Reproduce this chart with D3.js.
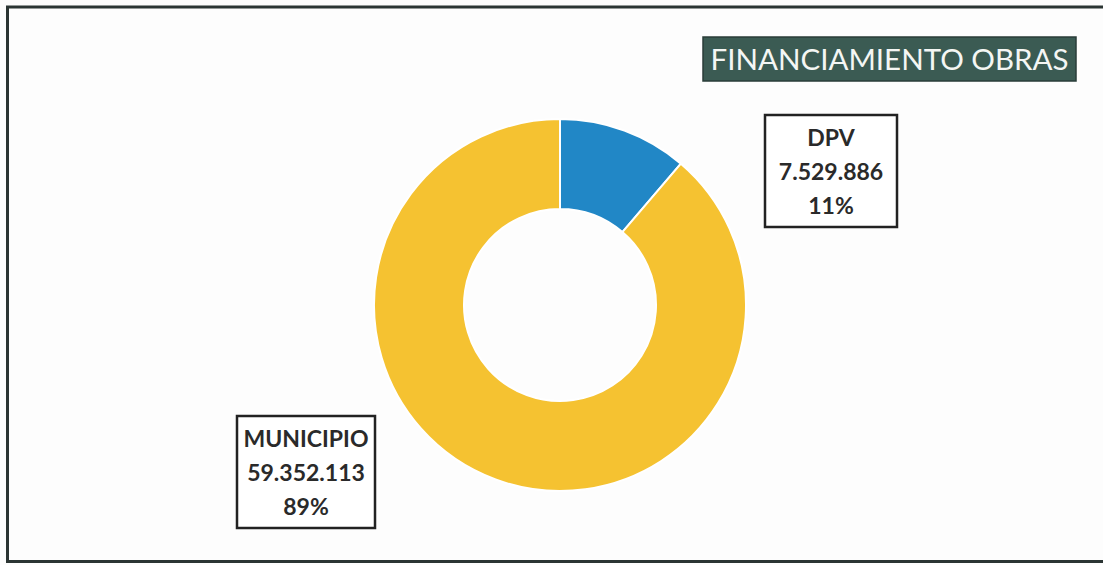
<!DOCTYPE html>
<html>
<head>
<meta charset="utf-8">
<script src="https://cdn.jsdelivr.net/npm/d3@7"></script>
<style>
  html, body { margin: 0; padding: 0; background: #fdfdfd; }
  svg { display: block; }
</style>
</head>
<body>
<div id="chart"></div>
<script>
// data
const categories = ["DPV", "MUNICIPIO"];
const amounts = [7529886, 59352113];
const sliceColors = ["#2187c6", "#f5c231"];
const title = "FINANCIAMIENTO OBRAS";

const width = 1103, height = 565;
const cx = 560, cy = 305;
const outerR = 186, innerR = 96;

const locale = d3.formatLocale({ decimal: ",", thousands: ".", grouping: [3], currency: ["$", ""] });
const fmt = locale.format(",d");
const total = d3.sum(amounts);

const svg = d3.select("#chart").append("svg")
  .attr("width", width)
  .attr("height", height);

// outer frame (right edge is cut off in the scan)
svg.append("path")
  .attr("d", `M${width},7 L7.5,7 L7.5,${height - 3.5} L${width},${height - 3.5}`)
  .attr("fill", "none")
  .attr("stroke", "#2b3533")
  .attr("stroke-width", 3);

// title box
const tg = svg.append("g");
tg.append("rect")
  .attr("x", 703).attr("y", 37)
  .attr("width", 373).attr("height", 44)
  .attr("fill", "#3b5b53")
  .attr("stroke", "#2a3d38")
  .attr("stroke-width", 1.5);
const titleText = tg.append("text")
  .attr("x", 889.5).attr("y", 70)
  .attr("text-anchor", "middle")
  .attr("font-family", "Lato, 'Open Sans', sans-serif")
  .attr("font-size", 32)
  .attr("fill", "#f4f6f4")
  .text(title);
// shrink the font until the title fits inside the box
const natural = titleText.node().getComputedTextLength();
if (natural > 358) titleText.attr("font-size", 32 * 358 / natural);

// donut
const pie = d3.pie().sort(null).value(d => d.value);
const arc = d3.arc().innerRadius(innerR).outerRadius(outerR);
const slices = pie(categories.map((c, i) => ({ name: c, value: amounts[i], color: sliceColors[i] })));

svg.append("g")
  .attr("transform", `translate(${cx},${cy})`)
  .selectAll("path")
  .data(slices)
  .join("path")
  .attr("d", arc)
  .attr("fill", d => d.data.color)
  .attr("stroke", "#ffffff")
  .attr("stroke-width", 2);

// label boxes
const boxes = [
  { x: 765, y: 115, w: 132, h: 112 },
  { x: 237, y: 416, w: 138, h: 112 }
];

slices.forEach((s, i) => {
  const b = boxes[i];
  const g = svg.append("g");
  g.append("rect")
    .attr("x", b.x).attr("y", b.y)
    .attr("width", b.w).attr("height", b.h)
    .attr("fill", "#ffffff")
    .attr("stroke", "#222")
    .attr("stroke-width", 2.5);
  const lines = [s.data.name, fmt(s.data.value), Math.round(s.data.value / total * 100) + "%"];
  g.selectAll("text")
    .data(lines)
    .join("text")
    .attr("x", b.x + b.w / 2)
    .attr("y", (d, j) => b.y + 31 + j * 34)
    .attr("text-anchor", "middle")
    .attr("font-family", "Lato, 'Open Sans', sans-serif")
    .attr("font-weight", "bold")
    .attr("font-size", 23)
    .attr("fill", "#2a2a2a")
    .text(d => d);
});
</script>
</body>
</html>
